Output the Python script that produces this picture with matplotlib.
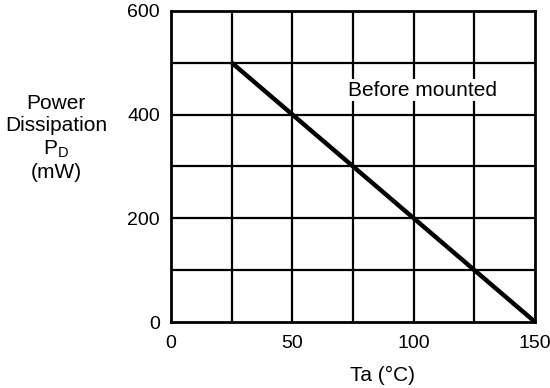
import matplotlib
matplotlib.use("Agg")
import matplotlib.pyplot as plt

temps = [25, 150]
power = [500, 0]
x_ticks = [0, 50, 100, 150]
y_ticks = [0, 200, 400, 600]
x_grid = [25, 50, 75, 100, 125]
y_grid = [100, 200, 300, 400, 500]

plt.rcParams['font.family'] = ['Liberation Sans', 'DejaVu Sans']

fig = plt.figure(figsize=(5.5, 3.88), dpi=100)
ax = fig.add_axes([0.311, 0.170, 0.662, 0.802])
ax.set_xlim(0, 150)
ax.set_ylim(0, 600)
for xg in x_grid:
    ax.axvline(xg, color='black', lw=1.6, zorder=1)
for yg in y_grid:
    ax.axhline(yg, color='black', lw=1.6, zorder=1)
for s in ax.spines.values():
    s.set_linewidth(2)
ax.plot(temps, power, color='black', lw=3.2, solid_capstyle='butt', zorder=3)
ax.set_xticks(x_ticks)
ax.set_yticks(y_ticks)
ax.tick_params(length=0, labelsize=14)
ax.tick_params(axis='y', pad=8)
ax.tick_params(axis='x', pad=9)
ax.text(103.5, 447, 'Before mounted', ha='center', va='center', fontsize=15,
        bbox=dict(facecolor='white', edgecolor='none', pad=1))
fig.text(382/550, 1-375/388, 'Ta (°C)', ha='center', va='center', fontsize=15)
fig.text(56/550, 1-138/388, 'Power\nDissipation\nP$_\\mathregular{D}$\n(mW)', ha='center', va='center',
         fontsize=15, linespacing=1.22)
fig.savefig('out.png', dpi=100)
